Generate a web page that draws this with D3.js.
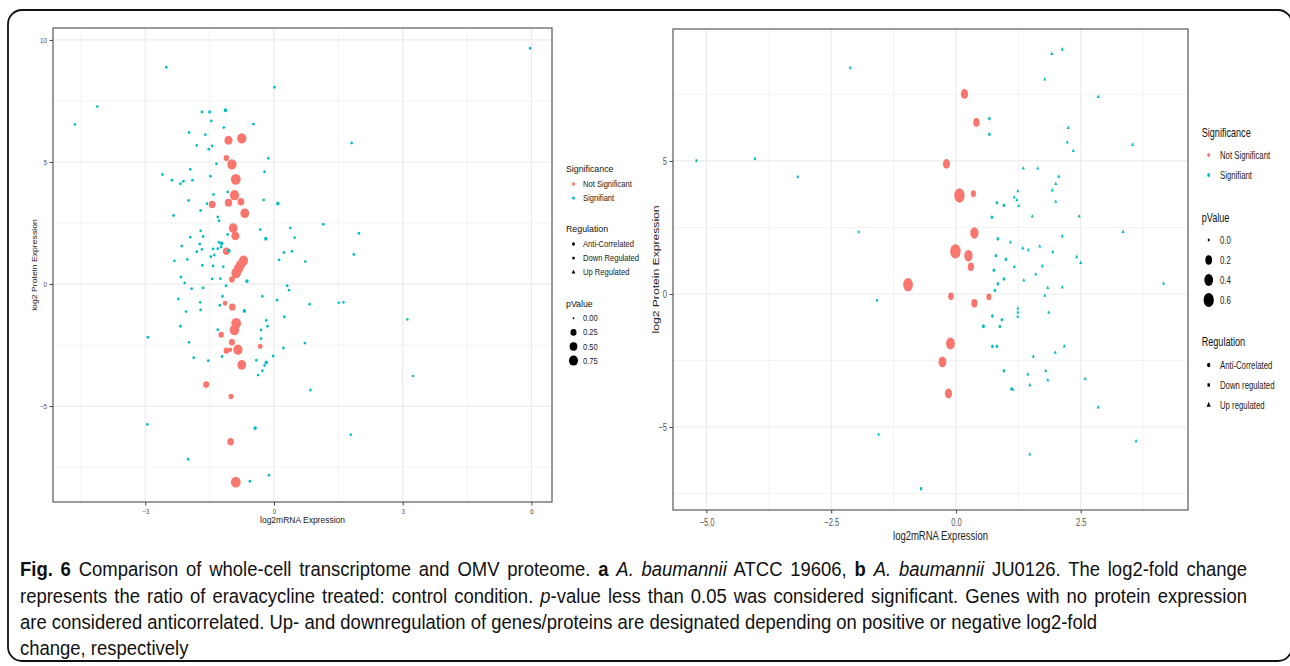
<!DOCTYPE html>
<html><head><meta charset="utf-8">
<script src="https://cdn.jsdelivr.net/npm/d3@7"></script>
<style>body{margin:0;background:#fff}svg{display:block}</style>
</head><body>
<svg id="c" width="1290" height="666"></svg>
<script>
// ---------------- DATA ----------------
// Panel a (ATCC 19606): [log2mRNA, log2Protein, pValue]
const aNotSignificant = [
 [-1.06,5.89,0.55],[-0.75,5.97,0.8],[-1.11,5.16,0.2],[-0.98,4.90,0.8],[-0.89,4.29,0.9],[-0.92,3.64,0.8],
 [-1.06,3.33,0.45],[-0.77,3.37,0.35],[-1.44,3.26,0.35],[-0.68,2.90,0.7],[-0.95,2.29,0.7],[-0.90,1.97,0.55],
 [-1.11,1.34,0.35],[-0.71,0.96,0.75],[-0.78,0.78,0.8],[-0.83,0.62,0.8],[-0.88,0.45,0.85],[-0.98,0.19,0.22],
 [-1.14,-0.79,0.1],[-0.97,-0.94,0.32],[-0.88,-1.61,0.9],[-0.92,-1.88,0.85],[-1.23,-2.08,0.19],[-0.98,-2.39,0.25],
 [-0.32,-2.55,0.12],[-1.11,-2.73,0.2],[-1.02,-2.69,0.07],[-0.84,-2.69,0.8],[-0.75,-3.31,0.7],[-1.58,-4.12,0.25],
 [-1.00,-4.61,0.15],[-1.01,-6.46,0.32],[-0.89,-8.12,0.9]
];
const aSignificant = [
 [-1.68,7.05,0.01],[-1.50,7.05,0.02],[-1.13,7.12,0.04],[-1.46,6.68,0.01],[-0.48,6.55,0.01],[-1.17,6.41,0.01],
 [-1.98,6.21,0.01],[-1.60,6.12,0.01],[-1.80,5.68,0.01],[-1.44,5.66,0.01],[-1.52,5.52,0.01],[1.81,5.78,0.01],
 [-0.13,5.15,0.01],[-1.34,4.93,0.01],[-1.95,4.70,0.01],[-0.22,4.60,0.01],[-2.60,4.49,0.01],[-2.38,4.25,0.01],
 [-1.48,4.42,0.01],[-2.11,4.21,0.01],[-2.18,4.11,0.01],[-1.90,4.25,0.01],[-1.41,3.67,0.01],[-1.08,3.77,0.01],
 [-1.99,3.42,0.01],[-1.56,3.29,0.01],[-0.24,3.44,0.01],[0.09,3.30,0.04],[-1.71,3.01,0.01],[-2.34,2.81,0.01],
 [-1.31,2.75,0.01],[-1.28,2.59,0.01],[-0.32,2.23,0.01],[0.38,2.30,0.01],[1.15,2.45,0.01],[1.98,2.08,0.01],
 [-1.71,2.18,0.01],[-1.95,1.92,0.01],[-1.65,1.95,0.01],[-1.08,2.03,0.01],[-0.19,1.86,0.04],[0.48,1.90,0.01],
 [-1.28,1.71,0.01],[-1.22,1.66,0.04],[-1.73,1.64,0.01],[-2.15,1.56,0.01],[-1.68,1.42,0.01],[-1.42,1.44,0.01],
 [-1.31,1.45,0.01],[-1.23,1.52,0.01],[-1.05,1.37,0.04],[-1.80,1.32,0.01],[-1.47,1.12,0.01],[-1.39,1.19,0.01],
 [0.23,1.29,0.01],[0.42,1.34,0.01],[1.86,1.21,0.01],[-2.32,0.95,0.01],[-2.02,1.01,0.01],[-1.67,0.77,0.01],
 [-1.42,0.74,0.01],[-1.18,0.71,0.01],[0.12,0.99,0.01],[0.73,0.92,0.01],[-2.17,0.29,0.01],[-1.44,0.21,0.01],
 [-1.25,0.22,0.01],[-0.63,0.12,0.04],[-2.08,0.04,0.01],[-1.12,-0.07,0.01],[-1.92,-0.19,0.01],[-1.65,-0.16,0.01],
 [0.31,-0.07,0.01],[0.35,-0.25,0.01],
 [-4.64,6.54,0.01],[-4.12,7.27,0.01],[-2.51,8.88,0.01],[0.01,8.06,0.01],[5.97,9.66,0.01],[3.11,-1.45,0.005],[3.24,-3.77,0.005],
 [-2.23,-0.61,0.01],[-1.72,-0.75,0.01],[-1.20,-0.50,0.01],[-1.26,-0.87,0.01],[-1.71,-1.06,0.01],[-2.05,-1.13,0.01],
 [-0.69,-1.10,0.04],[-0.27,-0.50,0.01],[0.07,-0.66,0.01],[0.83,-0.83,0.01],[1.51,-0.77,0.005],[1.62,-0.75,0.005],
 [-2.18,-1.73,0.01],[-2.94,-2.18,0.01],[-1.31,-1.87,0.01],[-0.18,-1.49,0.01],[-0.30,-1.88,0.01],[-0.15,-1.73,0.01],
 [-0.30,-2.24,0.01],[0.24,-1.34,0.01],[-1.98,-2.39,0.01],[0.22,-2.62,0.01],[0.72,-2.42,0.01],[-1.87,-3.02,0.01],
 [-1.53,-3.14,0.01],[-1.21,-2.97,0.01],[-0.02,-2.95,0.01],[-0.41,-3.12,0.01],[-0.18,-3.21,0.04],[-0.22,-3.34,0.01],
 [-0.27,-3.55,0.01],[-0.37,-3.73,0.01],[0.85,-4.34,0.01],[-2.95,-5.75,0.01],[-0.44,-5.90,0.04],[1.79,-6.17,0.005],
 [-2.00,-7.18,0.01],[-0.12,-7.83,0.01],[-0.56,-8.08,0.01]
];
// Panel b (JU0126): [log2mRNA, log2Protein, pValue, regulation]
const bNotSignificant = [
 [0.17,7.52,0.23],[0.41,6.45,0.16],[-0.19,4.89,0.23],[0.07,3.70,0.62],[0.35,3.77,0.08],[0.37,2.29,0.35],
 [-0.01,1.60,0.62],[0.25,1.44,0.35],[0.30,1.02,0.16],[-0.96,0.35,0.53],[-0.10,-0.09,0.11],[0.66,-0.11,0.08],
 [0.37,-0.35,0.16],[-0.11,-1.86,0.4],[-0.27,-2.55,0.3],[-0.15,-3.74,0.23]
];
const bSignificant = [
 [1.92,9.03,0.001,'U'],[2.13,9.19,0.001,'U'],[1.78,8.07,0.001,'U'],[2.85,7.41,0.001,'U'],[0.67,6.59,0.003,'A'],[0.67,6.00,0.003,'A'],
 [2.25,6.25,0.001,'U'],[2.23,5.70,0.001,'U'],[2.35,5.38,0.001,'U'],[3.54,5.61,0.001,'U'],[1.35,4.72,0.001,'U'],[1.64,4.72,0.001,'U'],
 [2.06,4.41,0.001,'U'],[2.00,4.14,0.001,'U'],[1.93,3.90,0.001,'U'],[1.24,3.87,0.001,'U'],[1.17,3.63,0.001,'U'],[1.22,3.53,0.001,'U'],
 [1.26,3.31,0.001,'U'],[2.00,3.47,0.001,'U'],[0.82,3.43,0.003,'A'],[0.96,3.33,0.003,'A'],[0.72,2.88,0.003,'A'],[1.53,2.92,0.001,'U'],
 [2.47,2.92,0.001,'U'],[3.35,2.34,0.001,'U'],[0.84,2.07,0.003,'A'],[1.09,1.94,0.001,'U'],[2.13,2.17,0.001,'U'],[1.34,1.72,0.001,'U'],
 [1.45,1.65,0.001,'U'],[1.68,1.79,0.001,'U'],[1.94,1.58,0.001,'U'],[0.80,1.44,0.003,'A'],[1.00,1.30,0.003,'A'],[2.42,1.39,0.001,'U'],
 [2.50,1.17,0.001,'U'],[0.76,0.89,0.003,'A'],[1.17,1.02,0.001,'U'],[1.73,1.05,0.001,'U'],[1.60,0.74,0.001,'U'],[0.96,0.56,0.003,'A'],
 [1.36,0.51,0.001,'U'],[0.84,0.38,0.003,'A'],[1.84,0.23,0.001,'U'],[2.13,0.25,0.001,'U'],[4.16,0.39,0.001,'U'],
 [0.78,0.13,0.003,'A'],[1.78,-0.06,0.001,'U'],[1.24,-0.54,0.001,'U'],[1.24,-0.69,0.001,'U'],[1.24,-0.85,0.001,'U'],[1.86,-0.70,0.001,'U'],
 [0.73,-0.83,0.003,'A'],[0.92,-0.97,0.003,'A'],[0.55,-1.21,0.008,'A'],[0.88,-1.22,0.003,'A'],[0.73,-1.97,0.003,'A'],[0.82,-1.97,0.003,'A'],
 [1.55,-2.35,0.001,'U'],[1.99,-2.20,0.001,'U'],[2.17,-1.97,0.001,'U'],[0.96,-2.89,0.003,'A'],[1.44,-3.02,0.001,'U'],[1.80,-2.89,0.001,'U'],
 [1.84,-3.24,0.001,'U'],[1.11,-3.56,0.001,'U'],[1.14,-3.59,0.001,'U'],[1.48,-3.42,0.001,'U'],[2.59,-3.19,0.001,'U'],[2.85,-4.26,0.001,'U'],
 [3.61,-5.53,0.001,'U'],[1.48,-6.03,0.001,'U'],[-0.70,-7.32,0.008,'D'],
 [-1.58,-0.24,0.003,'D'],[-1.55,-5.28,0.002,'D'],[-5.20,5.01,0.003,'D'],[-4.03,5.08,0.003,'D'],[-3.17,4.40,0.003,'D'],[-2.12,8.50,0.002,'D'],[-1.95,2.33,0.002,'D']
];
// Axes ticks
const aXTicks = [-3, 0, 3, 6];
const aYTicks = [-5, 0, 5, 10];
const bXTicks = [-5, -2.5, 0, 2.5];
const bYTicks = [-5, 0, 5];
const xTitle = "log2mRNA Expression";
const yTitle = "log2 Protein Expression";
// Legends
const sigLabels = ["Not Significant", "Signifiant"];
const aRegLabels = ["Anti-Correlated", "Down Regulated", "Up Regulated"];
const bRegLabels = ["Anti-Correlated", "Down regulated", "Up regulated"];
const aPBreaks = [0.00, 0.25, 0.50, 0.75];
const bPBreaks = [0.0, 0.2, 0.4, 0.6];
// Caption
const captionLines = [
 [["Fig. 6","b"],[" Comparison of whole-cell transcriptome and OMV proteome. ",""],["a","b"],[" ",""],["A. baumannii","i"],[" ATCC 19606, ",""],["b","b"],[" ",""],["A. baumannii","i"],[" JU0126. The log2-fold change",""]],
 [["represents the ratio of eravacycline treated: control condition. ",""],["p","i"],["-value less than 0.05 was considered significant. Genes with no protein expression",""]],
 [["are considered anticorrelated. Up- and downregulation of genes/proteins are designated depending on positive or negative log2-fold",""]],
 [["change, respectively",""]]
];

// ---------------- DRAW ----------------
const svg = d3.select('#c');
const RED = '#F8766D', CYAN = '#00BFC4';
const SANS = '"Liberation Sans",Arial,sans-serif';

svg.append('rect').attr('x', 8).attr('y', 10).attr('width', 1284).attr('height', 651)
  .attr('rx', 14).attr('fill', 'none').attr('stroke', '#111').attr('stroke-width', 1.8);

function shapeOf(reg) {
  return reg === 'U' ? d3.symbolTriangle : reg === 'D' ? d3.symbolSquare : d3.symbolCircle;
}
function symArea(reg, r) {
  if (reg === 'U') return Math.PI * r * r * 0.9;
  if (reg === 'D') return Math.PI * r * r * 0.75;
  return Math.PI * r * r;
}
function minorTicks(ticks, dom) {
  const out = [];
  const step = ticks[1] - ticks[0];
  const all = [ticks[0] - step].concat(ticks, [ticks[ticks.length - 1] + step]);
  for (let i = 0; i < all.length - 1; i++) {
    const m = (all[i] + all[i + 1]) / 2;
    if (m > dom[0] && m < dom[1]) out.push(m);
  }
  return out;
}
function stext(parent, x, y, s, size, txt, anchor, fill) {
  return parent.append('text').attr('transform', `translate(${x},${y}) scale(1,${s})`)
    .attr('font-family', SANS).attr('font-size', size).attr('fill', fill || '#222')
    .attr('text-anchor', anchor || 'start').text(txt);
}

function panel(c) {
  const g = svg.append('g');
  const x = d3.scaleLinear().domain(c.xDom).range(c.xRange);
  const y = d3.scaleLinear().domain(c.yDom).range(c.yRange);
  const [x0, x1] = c.xRange, [y1, y0] = c.yRange;
  const sy = c.stretch;
  minorTicks(c.xTicks, c.xDom).forEach(v => g.append('line').attr('x1', x(v)).attr('x2', x(v)).attr('y1', y0).attr('y2', y1).attr('stroke', '#f2f2f2').attr('stroke-width', 0.9));
  minorTicks(c.yTicks, c.yDom).forEach(v => g.append('line').attr('y1', y(v)).attr('y2', y(v)).attr('x1', x0).attr('x2', x1).attr('stroke', '#f2f2f2').attr('stroke-width', 0.9));
  c.xTicks.forEach(v => g.append('line').attr('x1', x(v)).attr('x2', x(v)).attr('y1', y0).attr('y2', y1).attr('stroke', '#ebebeb').attr('stroke-width', 1.2));
  c.yTicks.forEach(v => g.append('line').attr('y1', y(v)).attr('y2', y(v)).attr('x1', x0).attr('x2', x1).attr('stroke', '#ebebeb').attr('stroke-width', 1.2));

  const size = d3.scaleSqrt().domain(c.pDom).range(c.rRange);
  const plot = g.append('g');
  plot.selectAll('path.ns').data(c.notSig).join('path')
    .attr('d', d => d3.symbol().type(d3.symbolCircle).size(symArea('A', size(d[2])))())
    .attr('transform', d => `translate(${x(d[0])},${y(d[1])}) scale(1,${sy})`)
    .attr('fill', RED);
  plot.selectAll('path.sg').data(c.sig).join('path')
    .attr('d', d => d3.symbol().type(shapeOf(d[3] || 'A')).size(symArea(d[3] || 'A', size(d[2])))())
    .attr('transform', d => `translate(${x(d[0])},${y(d[1])}) scale(1,${sy})`)
    .attr('fill', CYAN);

  g.append('rect').attr('x', x0).attr('y', y0).attr('width', x1 - x0).attr('height', y1 - y0)
    .attr('fill', 'none').attr('stroke', '#666').attr('stroke-width', 1.3);

  const xa = g.append('g').attr('transform', `translate(0,${y1})`)
    .call(d3.axisBottom(x).tickValues(c.xTicks).tickFormat(c.xFmt).tickSize(3.5));
  const ya = g.append('g').attr('transform', `translate(${x0},0)`)
    .call(d3.axisLeft(y).tickValues(c.yTicks).tickFormat(c.yFmt).tickSize(3.5));
  [xa, ya].forEach(a => { a.select('.domain').remove(); a.selectAll('line').attr('stroke', '#444'); });
  xa.selectAll('.tick text').each(function() {
    d3.select(this).attr('y', null).attr('dy', null)
      .attr('transform', `translate(0,${c.xLabOff}) scale(1,${sy})`)
      .attr('fill', '#555').attr('font-family', SANS).attr('font-size', c.tickSize);
  });
  ya.selectAll('.tick text').each(function() {
    d3.select(this).attr('x', null).attr('dy', null)
      .attr('transform', `translate(${-c.yLabOff},${c.tickSize * 0.36 * sy}) scale(1,${sy})`)
      .attr('fill', '#555').attr('font-family', SANS).attr('font-size', c.tickSize);
  });
  stext(g, (x0 + x1) / 2 + c.xTitleDx, c.xTitleY, sy, c.xTitleSize, xTitle, 'middle');
  g.append('text').attr('transform', `translate(${c.yTitleX},${(y0 + y1) / 2}) scale(1,${sy}) rotate(-90)`)
    .attr('text-anchor', 'middle').attr('font-family', SANS).attr('font-size', c.yTitleSize).attr('fill', '#222').text(yTitle);

  const L = c.legend;
  const lg = g.append('g');
  function key(type, r, col, yy) {
    lg.append('path').attr('d', d3.symbol().type(shapeOf(type)).size(symArea(type, r))())
      .attr('transform', `translate(${L.kx},${yy}) scale(1,${sy})`).attr('fill', col);
  }
  L.blocks.forEach(b => {
    stext(lg, L.x, b.y, sy, L.titleSize, b.title, 'start', '#111');
    b.items.forEach((it, i) => {
      const yy = b.y0 + i * L.step;
      if (b.kind === 'sig') key('A', L.sigR, i === 0 ? RED : CYAN, yy);
      if (b.kind === 'reg') key(['A', 'D', 'U'][i], L.regR, '#000', yy);
      if (b.kind === 'p') key('A', size(it), '#000', yy);
      stext(lg, L.tx, yy + L.itemSize * 0.36 * sy, sy, L.itemSize, b.kind === 'p' ? c.pFmt(it) : it);
    });
  });
}

panel({
  xDom: [-5.15, 6.48], xRange: [53, 552], yDom: [-8.93, 10.49], yRange: [502, 28],
  xTicks: aXTicks, yTicks: aYTicks, xFmt: d3.format('d'), yFmt: d3.format('d'),
  notSig: aNotSignificant, sig: aSignificant,
  pDom: [0, 1], rRange: [0.9, 5.1], stretch: 1.1,
  tickSize: 6.3, xLabOff: 11.5, yLabOff: 6,
  xTitleY: 523, xTitleDx: 0, xTitleSize: 8.5, yTitleX: 37, yTitleSize: 7.9,
  pFmt: d3.format('.2f'),
  legend: {
    x: 566, kx: 573.5, tx: 583, titleSize: 8.8, itemSize: 7.6, step: 14.1, sigR: 1.5, regR: 1.5,
    blocks: [
      {title: 'Significance', y: 172, kind: 'sig', items: sigLabels, y0: 184},
      {title: 'Regulation', y: 232, kind: 'reg', items: aRegLabels, y0: 244},
      {title: 'pValue', y: 307, kind: 'p', items: aPBreaks, y0: 318.3}
    ]
  }
});

panel({
  xDom: [-5.67, 4.65], xRange: [673, 1188], yDom: [-8.12, 9.96], yRange: [510, 29],
  xTicks: bXTicks, yTicks: bYTicks, xFmt: d3.format('.1f'), yFmt: d3.format('d'),
  notSig: bNotSignificant, sig: bSignificant,
  pDom: [0, 0.65], rRange: [1.0, 5.3], stretch: 1.38,
  tickSize: 7.6, xLabOff: 16, yLabOff: 6,
  xTitleY: 540, xTitleDx: 10, xTitleSize: 9.5, yTitleX: 659, yTitleSize: 8.8,
  pFmt: d3.format('.1f'),
  legend: {
    x: 1201.7, kx: 1208.7, tx: 1220, titleSize: 9.1, itemSize: 7.8, step: 20, sigR: 1.5, regR: 1.6,
    blocks: [
      {title: 'Significance', y: 137, kind: 'sig', items: sigLabels, y0: 155},
      {title: 'pValue', y: 222, kind: 'p', items: bPBreaks, y0: 240},
      {title: 'Regulation', y: 346, kind: 'reg', items: bRegLabels, y0: 365}
    ]
  }
});

// caption: condensed (horizontally scaled) sans; lines 1-2 justified to full width
const capBase = [576, 602.5, 629, 655];
const CAP_FS = 19.5;
const cap = svg.append('g').attr('font-family', SANS).attr('fill', '#111');
const capNodes = captionLines.map((line, i) => {
  const t = cap.append('text').attr('x', 0).attr('y', 0).attr('font-size', CAP_FS);
  line.forEach(([s, st]) => {
    const ts = t.append('tspan').text(s);
    if (st === 'b') ts.attr('font-weight', 'bold');
    if (st === 'i') ts.attr('font-style', 'italic');
  });
  return t;
});
const w3 = capNodes[2].node().getComputedTextLength();
const kx = 1078 / w3;
capNodes.forEach((t, i) => t.attr('transform', `translate(20,${capBase[i]}) scale(${kx},1)`));
[0, 1].forEach(i => {
  const t = capNodes[i];
  const w = t.node().getComputedTextLength();
  const spaces = captionLines[i].map(s => s[0]).join('').split(' ').length - 1;
  t.attr('word-spacing', Math.max(0, (1227 / kx - w) / spaces));
});
</script>
</body></html>
